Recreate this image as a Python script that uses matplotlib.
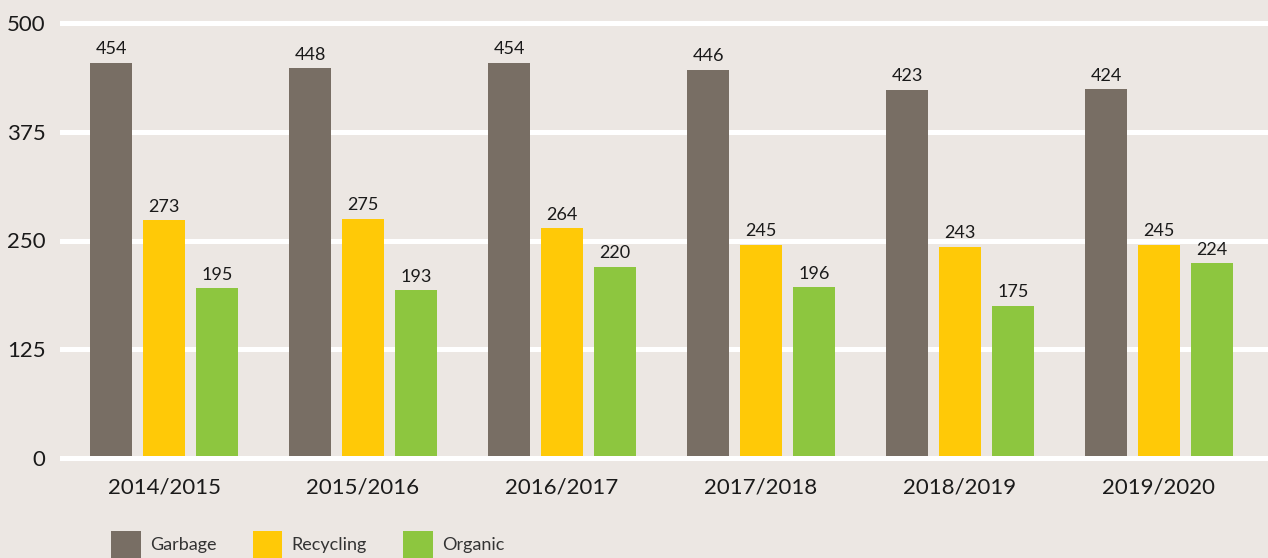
import matplotlib.pyplot as plt
import numpy as np

years = ['2014/2015', '2015/2016', '2016/2017', '2017/2018', '2018/2019', '2019/2020']
garbage = [454, 448, 454, 446, 423, 424]
recycling = [273, 275, 264, 245, 243, 245]
organic = [195, 193, 220, 196, 175, 224]

series = [('Garbage', garbage, '#786E64'),
          ('Recycling', recycling, '#FFC907'),
          ('Organic', organic, '#8DC63F')]

bg = '#ECE7E3'
txt = '#1A1A1A'
plt.rcParams['font.family'] = ['Lato', 'DejaVu Sans']

fig = plt.figure(figsize=(12.68, 5.58), dpi=100, facecolor=bg)
ax = fig.add_axes([62 / 1268, 100 / 558, 1 - 62 / 1268, 435 / 558])
ax.set_facecolor(bg)

x = np.arange(len(years))
width = 0.211
offset = 0.266

handles = []
for i, (name, vals, col) in enumerate(series):
    bars = ax.bar(x + (i - 1) * offset, vals, width, color=col, label=name, zorder=2)
    handles.append(bars)
    for b, v in zip(bars, vals):
        ax.annotate(str(v), (b.get_x() + b.get_width() / 2, v),
                    xytext=(0, 4), textcoords='offset points',
                    ha='center', va='bottom', fontsize=13, color=txt)

# white gridlines, the zero line sits on top of the bars
yticks = [0, 125, 250, 375, 500]
for t in yticks:
    ax.axhline(t, color='white', linewidth=3.6, clip_on=False,
               zorder=3 if t == 0 else 1)

ax.set_xlim(-0.513, 5.548)
ax.set_ylim(0, 500)
ax.set_yticks(yticks)
ax.set_xticks(x)
ax.set_xticklabels(years)
ax.tick_params(axis='y', length=0, pad=12, labelsize=16, labelcolor=txt)
ax.tick_params(axis='x', length=0, pad=14, labelsize=16, labelcolor=txt)
for s in ax.spines.values():
    s.set_visible(False)

fig.legend(handles=handles, loc='lower left', bbox_to_anchor=(95 / 1268, -0.03),
           ncol=3, frameon=False, fontsize=13,
           handlelength=1.65, handleheight=2.0,
           handletextpad=0.5, columnspacing=2.0, labelcolor='#333333')

fig.savefig('out.png', dpi=100, facecolor=bg)
